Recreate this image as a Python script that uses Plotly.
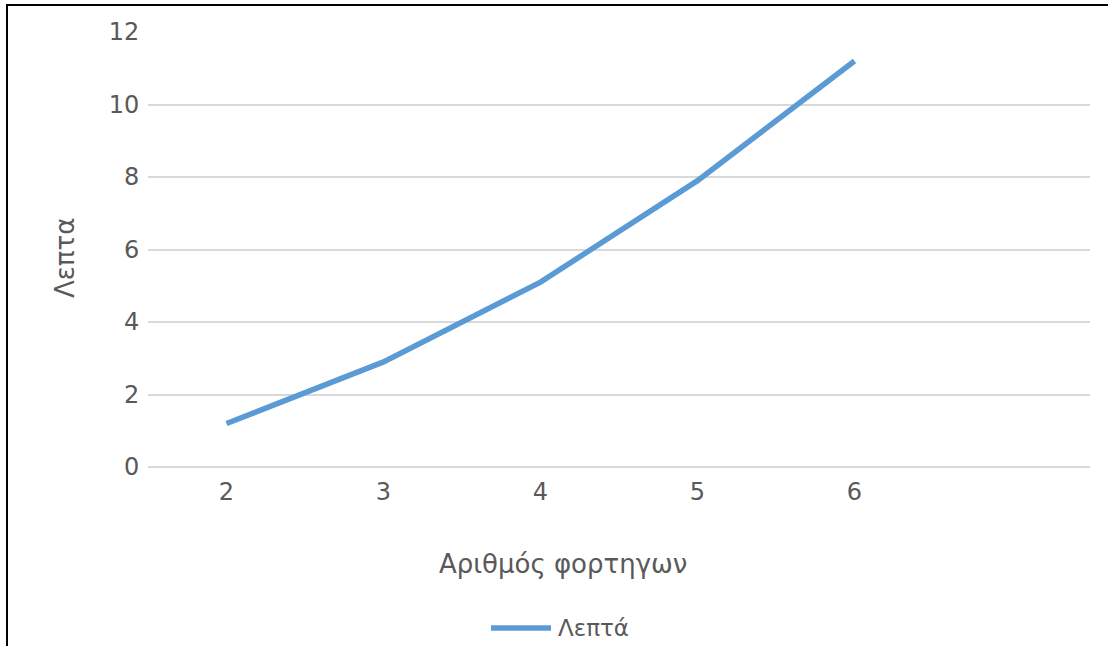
import plotly.graph_objects as go

# Number of trucks and the minutes measured for each
trucks = [2, 3, 4, 5, 6]
minutes = [1.2, 2.9, 5.1, 7.9, 11.2]

y_ticks = [0, 2, 4, 6, 8, 10, 12]

series_name = "Λεπτά"
x_title = "Αριθμός φορτηγων"
y_title = "Λεπτα"

W, H = 1108, 646
ML, MR, MT, MB = 148, 18, 32, 179
pw, ph = W - ML - MR, H - MT - MB

def px_to_paper_x(px):
    return (px - ML) / pw

def px_to_paper_y(py):
    return (H - MB - py) / ph

font_color = "#595959"
grid_color = "#D9D9D9"
line_color = "#5B9BD5"

fig = go.Figure()
fig.add_trace(go.Scatter(
    x=trucks, y=minutes, mode="lines", name=series_name,
    line=dict(color=line_color, width=5.5),
    showlegend=False,
))

# Outer frame (top and left edges visible on the page)
fig.add_shape(type="rect", xref="paper", yref="paper",
              x0=px_to_paper_x(7), x1=px_to_paper_x(W + 20),
              y0=px_to_paper_y(H + 20), y1=px_to_paper_y(5),
              line=dict(color="black", width=2), fillcolor="rgba(0,0,0,0)",
              layer="below")

# Legend key: a wide line sample followed by the series name
fig.add_shape(type="line", xref="paper", yref="paper",
              x0=px_to_paper_x(491), x1=px_to_paper_x(551),
              y0=px_to_paper_y(628), y1=px_to_paper_y(628),
              line=dict(color=line_color, width=5.5))
fig.add_annotation(text=series_name, xref="paper", yref="paper",
                   x=px_to_paper_x(556), y=px_to_paper_y(628),
                   xanchor="left", yanchor="middle", showarrow=False,
                   font=dict(size=23, color=font_color))

# Axis titles
fig.add_annotation(text=x_title, xref="paper", yref="paper",
                   x=px_to_paper_x(563), y=px_to_paper_y(564),
                   xanchor="center", yanchor="middle", showarrow=False,
                   font=dict(size=26, color=font_color))
fig.add_annotation(text=y_title, xref="paper", yref="paper",
                   x=px_to_paper_x(65), y=px_to_paper_y(258),
                   xanchor="center", yanchor="middle", showarrow=False,
                   textangle=-90,
                   font=dict(size=26, color=font_color))

fig.update_layout(
    width=W, height=H,
    margin=dict(l=ML, r=MR, t=MT, b=MB),
    paper_bgcolor="white", plot_bgcolor="white",
    font=dict(family="DejaVu Sans", size=24, color=font_color),
    showlegend=False,
    xaxis=dict(
        range=[1.5, 7.5], tickmode="array", tickvals=trucks,
        ticktext=[str(t) for t in trucks],
        showgrid=False, zeroline=False, showline=False,
        ticks="outside", ticklen=3, tickcolor="rgba(0,0,0,0)",
    ),
    yaxis=dict(
        range=[0, 12], tickmode="array", tickvals=y_ticks,
        showgrid=True, gridcolor=grid_color, gridwidth=1.5,
        zeroline=True, zerolinecolor=grid_color, zerolinewidth=1.5,
        showline=False,
        ticks="outside", ticklen=3, tickcolor="rgba(0,0,0,0)",
    ),
)

fig.write_html("out.html")
